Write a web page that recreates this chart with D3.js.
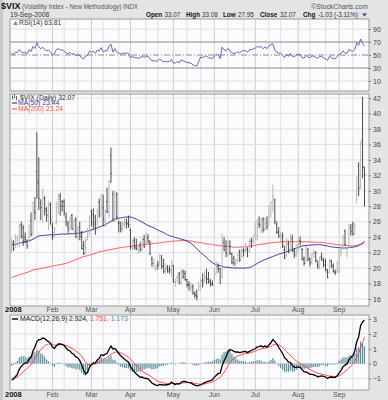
<!DOCTYPE html>
<html lang="en">
<head>
<meta charset="UTF-8">
<title>$VIX</title>
<style>
  body { margin: 0; background: #e4e4e4; }
  svg text { font-family: "Liberation Sans", Arial, sans-serif; }
</style>
</head>
<body>
<svg id="chart"></svg>
<script src="https://d3js.org/d3.v7.min.js"></script>
<script>
// ---- data ----
var holidays = ["2008-01-21", "2008-02-18", "2008-03-21", "2008-05-26", "2008-07-04", "2008-09-01"];
var monthNames = ["Feb", "Mar", "Apr", "May", "Jun", "Jul", "Aug", "Sep"];

var open = [22.58,23.4,22.9,23.6,23.2,25.6,25.2,24.0,23.4,23.6,26.2,24.6,27.4,32.5,31.2,28.4,26.6,29.0,27.4,26.6,28.2,
  25.4,24.6,25.8,27.8,29.3,28.6,28.6,26.6,25.7,25.0,26.8,24.4,26.3,23.8,25.3,24.4,22.9,22.8,24.0,24.5,
  27.3,26.9,25.7,25.2,28.5,27.2,27.8,25.9,28.6,26.8,34.6,29.6,26.0,29.5,25.9,25.4,25.6,25.7,25.9,25.8,
  24.9,22.8,23.6,22.6,22.0,22.8,22.5,23.7,23.3,23.9,23.3,21.2,20.6,19.9,20.5,20.6,21.2,20.3,19.8,20.0,19.8,19.6,
  20.3,18.1,18.8,19.3,18.0,19.5,19.3,18.5,17.9,17.3,17.6,16.7,16.5,17.4,17.7,18.4,18.5,18.9,18.6,18.3,18.0,
  18.6,19.3,20.2,19.9,18.8,23.3,22.8,21.6,22.9,21.8,21.3,20.7,21.1,22.1,21.5,22.3,22.2,22.4,22.2,23.5,23.6,
  24.4,24.2,25.7,25.5,26.3,25.0,25.8,26.5,26.9,29.2,28.8,25.6,24.6,23.9,24.2,22.4,21.6,23.1,22.5,23.8,22.2,22.0,
  22.6,23.5,22.4,21.2,20.8,22.4,21.1,20.8,21.9,22.0,20.5,20.2,21.5,21.0,20.8,19.5,19.4,20.9,20.3,19.5,19.7,
  19.5,22.2,22.9,24.8,21.6,22.7,25.2,25.5,24.9,28.9,33.2,30.3,36.6,33.07];
var high = [23.8,23.6,24.4,24.3,25.7,26.0,25.6,24.6,23.7,25.6,27.2,28.6,29.2,37.57,34.3,28.9,30.3,29.3,27.9,28.6,28.5,
  25.9,25.3,28.6,29.6,29.7,28.8,28.9,27.2,26.1,26.7,27.0,26.3,26.6,25.4,26.0,24.8,23.5,23.9,25.2,26.8,
  27.6,27.7,26.9,27.7,29.0,29.6,29.5,27.6,30.4,31.4,35.6,30.0,29.9,29.8,26.2,26.0,26.1,26.8,26.4,26.8,
  25.1,23.7,24.0,23.8,22.8,23.4,24.0,24.3,24.6,24.4,23.6,21.5,21.2,20.4,20.9,21.8,21.7,21.2,20.6,20.4,20.3,21.0,
  20.4,18.6,19.2,19.5,19.8,19.8,19.7,18.6,18.3,18.1,17.9,17.0,17.2,18.2,18.7,19.3,19.6,19.9,19.5,18.6,18.4,
  20.0,20.9,20.6,20.0,24.5,24.0,23.6,23.7,23.6,22.0,21.6,21.2,22.0,22.4,22.5,22.6,23.3,22.7,23.8,23.9,24.3,
  26.0,26.4,26.7,26.5,26.6,26.5,26.7,28.2,28.6,30.8,29.0,26.0,25.3,24.7,24.6,22.9,23.8,23.5,24.4,24.3,22.6,23.1,
  23.9,24.1,22.6,21.5,22.8,22.6,21.4,21.9,22.4,22.2,21.0,21.5,22.0,21.3,21.2,19.9,21.2,21.1,20.6,19.8,20.9,
  22.6,22.9,24.3,25.0,23.0,25.7,25.7,26.0,25.8,31.8,33.7,36.4,42.16,33.08];
var low = [22.0,22.2,22.6,22.8,22.7,23.8,22.9,23.2,22.5,23.3,24.1,24.2,26.2,29.0,27.5,26.2,25.9,26.8,26.0,24.9,25.6,
  23.6,24.0,25.6,27.0,26.8,27.3,26.8,25.4,24.5,24.8,25.0,24.3,23.9,23.6,23.6,22.4,21.7,21.8,23.6,24.2,
  25.4,25.1,24.3,24.9,26.5,26.6,25.4,25.3,27.1,26.5,31.0,26.0,25.9,26.3,24.6,24.6,24.7,25.2,25.1,25.2,
  22.4,22.3,22.4,22.3,21.8,22.1,22.2,22.6,23.1,23.2,21.7,20.2,20.0,19.6,19.8,20.3,19.9,19.3,19.2,19.4,19.3,18.9,
  18.1,17.6,18.2,17.9,17.9,18.6,18.4,17.5,17.1,16.9,16.6,16.1,15.82,17.0,17.1,17.5,18.2,17.9,18.0,17.6,17.7,
  18.5,19.2,19.4,18.0,18.7,22.2,21.4,21.5,21.7,20.5,20.3,20.1,20.6,20.8,21.3,21.5,22.0,21.4,22.0,22.6,23.1,
  23.6,23.6,25.2,24.5,24.6,24.8,25.0,25.5,26.5,27.3,25.7,24.4,23.9,23.3,22.6,21.2,21.4,21.9,22.2,22.1,21.3,21.4,
  22.0,22.9,21.0,20.3,20.6,20.9,20.2,20.5,21.3,20.7,19.9,19.8,20.9,20.1,19.6,18.7,19.3,20.0,19.4,19.1,19.4,
  19.4,21.5,22.6,22.9,21.4,22.5,24.2,24.2,24.3,28.4,29.3,30.2,31.6,27.95];
var close = [23.17,22.49,23.94,23.79,25.43,24.12,23.45,23.68,22.90,25.43,24.38,28.46,27.18,31.01,29.02,27.81,29.08,27.69,26.82,27.26,26.20,
  24.02,24.98,28.24,28.88,28.04,28.01,27.25,25.96,25.30,26.34,25.02,25.59,24.05,24.90,24.06,22.54,21.90,23.60,24.12,26.54,
  25.94,26.58,25.25,27.49,26.98,29.38,26.36,27.27,27.29,31.16,32.24,26.37,29.84,26.62,25.79,25.08,25.73,25.71,25.71,25.61,
  22.68,23.43,22.82,22.45,22.42,22.37,23.82,22.78,23.46,23.53,21.85,20.61,20.62,20.13,20.35,21.60,20.18,19.59,19.80,19.54,19.75,20.79,
  18.18,18.18,18.97,18.07,19.54,18.90,18.46,17.84,17.73,17.52,16.69,16.47,16.30,17.57,18.39,18.21,18.64,18.55,18.17,17.91,17.83,
  19.09,20.01,19.87,18.03,23.56,22.31,21.96,23.33,21.94,20.72,20.63,20.91,21.72,21.05,22.24,22.26,22.52,21.57,23.44,23.44,23.95,
  24.48,26.20,25.62,26.18,24.97,26.35,25.38,27.49,28.48,29.31,26.05,24.68,24.19,23.99,22.86,21.23,23.60,22.06,24.28,22.20,21.67,22.94,
  23.49,23.36,21.09,20.59,22.65,21.17,20.70,21.73,21.92,20.98,20.26,21.24,21.26,20.40,19.82,18.81,20.98,20.27,19.56,19.43,20.65,
  21.99,22.52,24.03,23.06,22.64,25.47,24.79,24.39,25.66,31.70,30.30,36.22,33.10,32.07];

var ma50 = [23.0,23.05,23.1,23.15,23.2,23.3,23.35,23.4,23.45,23.55,23.6,23.75,23.85,24.05,
  24.15,24.2,24.2,24.25,24.25,24.3,24.3,24.3,24.3,24.35,24.35,24.4,24.4,24.4,24.4,24.4,24.45,24.45,24.45,24.5,24.5,
  24.55,24.6,24.65,24.7,24.8,24.85,24.95,25.0,25.1,25.2,
  25.3,25.4,25.5,25.6,25.75,25.9,26.05,26.2,
  26.3,26.4,26.45,26.5,26.55,26.6,26.6,26.65,
  26.6,26.55,26.45,26.35,26.2,26.05,25.95,25.8,25.65,
  25.5,25.4,25.3,25.2,25.05,24.95,24.8,24.7,24.6,24.45,24.3,
  24.2,24.1,24.05,23.95,23.9,23.8,23.75,23.7,23.6,
  23.5,23.35,23.2,23.0,22.75,22.5,22.25,
  22.0,21.8,21.6,21.35,21.1,20.9,20.7,
  20.55,20.45,20.35,20.3,20.2,
  20.15,20.1,20.1,20.05,20.05,20.0,20.0,20.0,20.0,
  20.0,20.0,20.0,20.05,20.05,
  20.15,20.3,20.45,20.6,20.75,20.85,21.0,
  21.1,21.2,21.3,21.4,21.5,21.6,21.7,
  21.8,21.85,21.95,22.05,22.1,22.2,22.3,
  22.4,22.5,22.6,22.65,22.75,22.85,
  22.9,22.9,22.95,22.95,23.0,23.0,23.0,23.05,23.0,
  23.0,22.95,22.9,22.85,22.8,
  22.75,22.7,22.7,22.65,22.65,22.6,22.6,
  22.6,22.6,22.65,22.7,22.7,22.75,22.8,
  22.9,23.05,23.25,23.44];
var ma200 = [18.8,18.88,18.96,19.04,19.12,19.2,19.28,19.36,19.44,19.52,19.62,19.75,
  19.8,19.85,19.9,19.95,20.0,20.05,20.1,20.15,20.2,20.25,20.3,20.35,20.4,20.45,20.5,20.55,20.6,
  20.7,20.8,20.9,21.0,21.1,21.2,21.3,21.4,21.5,21.55,21.6,21.7,21.75,21.85,21.9,22.0,22.1,
  22.15,22.2,22.25,22.3,22.35,22.4,22.45,22.5,22.55,22.6,22.65,22.7,22.7,22.75,22.8,22.8,22.85,
  22.9,22.9,22.95,23.0,23.0,23.05,23.05,23.1,23.1,23.15,23.2,23.2,23.25,23.25,23.3,23.35,23.35,23.4,
  23.45,23.45,23.5,23.5,23.5,23.55,23.55,23.55,23.55,23.55,23.5,23.5,
  23.45,23.4,23.35,23.3,23.3,23.25,23.2,23.15,23.1,23.1,23.05,23.0,22.95,22.9,22.9,22.85,
  22.85,22.8,22.8,22.75,22.75,22.7,22.7,22.7,22.7,
  22.7,22.75,22.75,22.8,22.85,22.9,22.9,22.95,23.0,
  23.05,23.1,23.1,23.15,23.2,23.25,23.25,23.3,
  23.3,23.35,23.35,23.35,23.4,23.4,23.4,23.4,23.4,
  23.4,23.4,23.4,23.45,23.45,23.4,23.4,23.4,
  23.4,23.4,23.35,23.35,23.35,23.3,23.3,23.3,23.3,
  23.25,23.2,23.2,23.15,23.1,23.05,23.05,23.0,
  23.0,22.95,22.95,22.9,22.9,22.85,22.85,
  22.9,22.95,23.0,23.05,23.15,23.24];

var rsi = [53.5,50.5,54.5,54.0,58.5,55.0,53.3,53.8,51.8,58.0,55.2,63.0,60.0,69.0,62.5,59.5,62.0,58.6,56.5,57.3,54.8,
  49.6,51.8,58.5,59.6,57.8,57.7,56.0,53.2,51.8,54.0,51.0,52.3,48.8,50.9,49.0,45.6,43.9,48.5,49.8,55.8,
  54.4,55.8,52.6,57.6,56.3,61.3,54.6,56.5,56.5,63.6,66.8,54.5,59.8,54.3,52.6,51.4,52.8,52.8,52.8,52.5,
  45.8,47.6,46.3,45.5,45.4,45.3,48.8,46.3,48.0,48.2,44.1,41.3,41.4,40.3,40.9,44.1,41.0,39.8,40.3,39.4,40.0,43.2,
  37.6,37.6,40.2,37.8,42.6,41.0,39.8,38.2,38.0,37.4,35.0,33.8,33.0,40.2,47.0,45.5,48.5,48.0,46.0,45.0,44.5,
  48.2,51.0,50.0,44.5,62.0,58.0,56.5,60.0,56.0,53.0,52.5,53.0,55.0,53.0,56.0,56.2,57.0,54.0,58.5,58.3,59.5,
  60.5,63.5,61.8,63.0,59.6,62.5,59.8,64.0,66.0,67.5,58.0,54.2,53.0,52.5,49.6,45.8,51.2,47.9,52.5,48.2,47.2,49.8,
  51.0,50.7,46.0,45.0,49.7,46.7,45.7,48.2,48.6,46.6,45.0,47.6,47.7,45.7,44.3,41.7,47.8,46.1,44.5,44.2,47.8,
  51.2,52.6,56.2,53.4,52.3,58.6,56.6,55.6,58.4,69.0,64.8,74.6,68.0,63.81];

var macd = [-1.10,-1.05,-0.88,-0.72,-0.38,-0.18,-0.05,0.05,0.05,0.30,0.42,0.85,1.10,1.48,1.62,1.62,1.72,1.68,1.55,1.48,1.36,
  1.12,1.02,1.20,1.32,1.32,1.30,1.22,1.05,0.90,0.85,0.70,0.62,0.45,0.40,0.20,-0.10,-0.45,-0.70,-0.60,-0.25,
  -0.05,0.05,0.05,0.25,0.35,0.60,0.55,0.62,0.70,0.95,1.18,0.98,1.02,0.88,0.68,0.52,0.42,0.30,0.20,0.10,
  -0.20,-0.38,-0.55,-0.70,-0.82,-0.92,-0.90,-0.98,-1.00,-1.02,-1.15,-1.30,-1.38,-1.45,-1.48,-1.40,-1.42,-1.45,-1.42,-1.42,-1.38,-1.25,
  -1.35,-1.40,-1.35,-1.38,-1.25,-1.20,-1.20,-1.25,-1.28,-1.30,-1.38,-1.45,-1.50,-1.48,-1.42,-1.35,-1.28,-1.22,-1.18,-1.15,-1.08,
  -0.92,-0.78,-0.66,-0.64,-0.15,0.20,0.45,0.80,0.95,0.90,0.82,0.78,0.78,0.74,0.78,0.80,0.82,0.74,0.82,0.88,0.95,
  1.00,1.12,1.15,1.20,1.12,1.18,1.12,1.25,1.40,1.62,1.50,1.32,1.10,0.90,0.68,0.40,0.28,0.10,0.08,-0.12,-0.25,-0.25,
  -0.22,-0.25,-0.40,-0.55,-0.55,-0.62,-0.72,-0.72,-0.75,-0.80,-0.88,-0.85,-0.82,-0.85,-0.90,-1.00,-0.92,-0.90,-0.92,-0.92,-0.82,
  -0.62,-0.45,-0.20,-0.10,-0.02,0.25,0.42,0.52,0.85,1.45,1.80,2.55,2.80,2.924];
var signal = [-0.95,-0.97,-0.95,-0.90,-0.80,-0.68,-0.55,-0.43,-0.33,-0.20,-0.08,0.11,0.31,0.54,0.76,0.93,1.09,1.21,1.28,1.32,1.33,
  1.29,1.24,1.23,1.25,1.26,1.27,1.26,1.22,1.16,1.10,1.02,0.94,0.84,0.75,0.64,0.49,0.30,0.10,-0.04,-0.08,
  -0.07,-0.05,-0.03,0.03,0.09,0.19,0.26,0.33,0.40,0.51,0.64,0.71,0.77,0.79,0.77,0.72,0.66,0.59,0.51,0.43,
  0.30,0.16,0.02,-0.12,-0.26,-0.39,-0.49,-0.59,-0.67,-0.74,-0.82,-0.92,-1.01,-1.10,-1.18,-1.22,-1.26,-1.30,-1.32,-1.34,-1.35,-1.33,
  -1.33,-1.34,-1.34,-1.35,-1.33,-1.30,-1.28,-1.27,-1.27,-1.28,-1.30,-1.33,-1.36,-1.38,-1.39,-1.38,-1.36,-1.33,-1.30,-1.27,-1.23,
  -1.17,-1.09,-1.00,-0.93,-0.77,-0.58,-0.37,-0.14,0.08,0.24,0.36,0.44,0.51,0.56,0.60,0.64,0.68,0.69,0.72,0.75,0.79,
  0.83,0.89,0.94,0.99,1.02,1.05,1.06,1.10,1.16,1.25,1.30,1.30,1.26,1.19,1.09,0.95,0.82,0.68,0.56,0.42,0.29,0.18,
  0.10,0.03,-0.06,-0.16,-0.24,-0.32,-0.40,-0.46,-0.52,-0.58,-0.64,-0.68,-0.71,-0.74,-0.77,-0.82,-0.84,-0.85,-0.86,-0.87,-0.86,
  -0.81,-0.74,-0.63,-0.52,-0.42,-0.29,-0.15,-0.02,0.15,0.41,0.69,1.06,1.41,1.751];
var hist = [-0.15,-0.08,0.07,0.18,0.42,0.50,0.50,0.48,0.38,0.50,0.50,0.74,0.79,0.94,0.86,0.69,0.63,0.47,0.27,0.16,0.03,
  -0.17,-0.22,-0.03,0.07,0.06,0.03,-0.04,-0.17,-0.26,-0.25,-0.32,-0.32,-0.39,-0.35,-0.44,-0.59,-0.75,-0.80,-0.56,-0.17,
  0.02,0.10,0.08,0.22,0.26,0.41,0.29,0.29,0.30,0.44,0.54,0.27,0.25,0.09,-0.09,-0.20,-0.24,-0.29,-0.31,-0.33,
  -0.50,-0.54,-0.57,-0.58,-0.56,-0.53,-0.41,-0.39,-0.33,-0.28,-0.33,-0.38,-0.37,-0.35,-0.30,-0.18,-0.16,-0.15,-0.10,-0.08,-0.03,0.08,
  -0.02,-0.06,-0.01,-0.03,0.08,0.10,0.08,0.02,-0.01,-0.02,-0.08,-0.12,-0.14,-0.10,-0.03,0.03,0.08,0.11,0.12,0.12,0.15,
  0.25,0.31,0.34,0.29,0.62,0.78,0.82,0.94,0.87,0.66,0.46,0.34,0.27,0.18,0.18,0.16,0.14,0.05,0.10,0.13,0.16,
  0.17,0.23,0.21,0.21,0.10,0.13,0.06,0.15,0.24,0.37,0.20,0.02,-0.16,-0.29,-0.41,-0.55,-0.54,-0.58,-0.48,-0.54,-0.54,-0.43,
  -0.32,-0.28,-0.34,-0.39,-0.31,-0.30,-0.32,-0.26,-0.23,-0.22,-0.24,-0.17,-0.11,-0.11,-0.13,-0.18,-0.08,-0.05,-0.06,-0.05,0.04,
  0.19,0.29,0.43,0.42,0.40,0.54,0.57,0.54,0.70,1.04,1.11,1.49,1.39,1.173];

// ---- trading calendar ----
var fmt = d3.timeFormat("%Y-%m-%d");
var dates = d3.timeDay.range(new Date(2008, 0, 2), new Date(2008, 8, 20))
  .filter(d => d.getDay() > 0 && d.getDay() < 6 && holidays.indexOf(fmt(d)) < 0)
  .map(fmt);

var bars = dates.map((d, i) => ({date: d, o: open[i], h: high[i], l: low[i], c: close[i]}));

// ---- layout ----
var width = 388, height = 400;
var left = 10, right = 369;
var rsiP = {top: 19, bottom: 91},
    priceP = {top: 94, bottom: 306},
    macdP = {top: 315, bottom: 390};

var svg = d3.select("#chart").attr("width", width).attr("height", height);
svg.append("rect").attr("width", width).attr("height", height).attr("fill", "#e4e4e4");
svg.append("rect").attr("width", 3).attr("height", height).attr("fill", "#cacaca");

var x = d3.scalePoint().domain(dates).range([11.5, 364.5]);
var yRsi = d3.scaleLinear().domain([10, 90]).range([81, 29]);
var yPrice = d3.scaleLinear().domain([16, 42]).range([299, 98]);
var yMacd = d3.scaleLinear().domain([-1, 3]).range([378.5, 319]);

// month starts and in-between grid dates
var monthStart = dates.filter((d, i) => i > 0 && d.slice(5, 7) !== dates[i - 1].slice(5, 7));
var gridDates = dates.filter((d, i) => {
  if (i === 0) return false;
  var day = +d.slice(8), prev = +dates[i - 1].slice(8);
  return (day >= 11 && prev < 11) || (day >= 21 && prev < 21);
});

function panel(p, id) {
  svg.append("clipPath").attr("id", id).append("rect")
    .attr("x", left).attr("y", p.top).attr("width", right - left).attr("height", p.bottom - p.top);
  svg.append("rect").attr("x", left).attr("y", p.top)
    .attr("width", right - left).attr("height", p.bottom - p.top)
    .attr("fill", "#fbfbfd");
  var g = svg.append("g");
  g.selectAll(".vg").data(gridDates).join("line")
    .attr("x1", d => x(d)).attr("x2", d => x(d))
    .attr("y1", p.top).attr("y2", p.bottom)
    .attr("stroke", "#e0e0e0").attr("stroke-width", 1);
  g.selectAll(".vm").data(monthStart).join("line")
    .attr("x1", d => x(d)).attr("x2", d => x(d))
    .attr("y1", p.top).attr("y2", p.bottom)
    .attr("stroke", "#cdcdcd").attr("stroke-width", 1);
  return g;
}

function hgrid(g, scale, values, color) {
  g.selectAll(null).data(values).join("line")
    .attr("x1", left).attr("x2", right)
    .attr("y1", d => scale(d)).attr("y2", d => scale(d))
    .attr("stroke", color || "#e0e0e0");
}

function rightAxis(scale, values) {
  var g = svg.append("g").attr("transform", "translate(" + right + ",0)")
    .call(d3.axisRight(scale).tickValues(values).tickSize(2).tickPadding(2).tickFormat(d3.format("d")));
  g.attr("font-size", 7).attr("font-family", "Liberation Sans, Arial, sans-serif");
  g.select(".domain").remove();
  g.selectAll("line").attr("stroke", "#777");
  g.selectAll("text").attr("fill", "#444");
}

function border(p) {
  svg.append("rect").attr("x", left).attr("y", p.top)
    .attr("width", right - left).attr("height", p.bottom - p.top)
    .attr("fill", "none").attr("stroke", "#9a9a9a");
}

// ---- RSI panel ----
var gR = panel(rsiP, "clipR");
hgrid(gR, yRsi, [90, 10]);
hgrid(gR, yRsi, [70, 30], "#8a8a8a");
gR.append("line").attr("x1", left).attr("x2", right)
  .attr("y1", yRsi(50)).attr("y2", yRsi(50))
  .attr("stroke", "#8a8a8a").attr("stroke-dasharray", "6,2,1,2");
gR.append("path").datum(rsi)
  .attr("clip-path", "url(#clipR)")
  .attr("fill", "none").attr("stroke", "#5757a8").attr("stroke-width", 0.9)
  .attr("d", d3.line().x((d, i) => x(dates[i])).y(d => yRsi(d)));
border(rsiP);
rightAxis(yRsi, [90, 70, 50, 30, 10]);

// ---- price panel ----
var gP = panel(priceP, "clipP");
hgrid(gP, yPrice, d3.range(16, 43, 2));
var pg = gP.append("g").attr("clip-path", "url(#clipP)");
pg.append("path").datum(ma200)
  .attr("fill", "none").attr("stroke", "#ff5a5a").attr("stroke-width", 1)
  .attr("d", d3.line().x((d, i) => x(dates[i])).y(d => yPrice(d)));
pg.append("path").datum(ma50)
  .attr("fill", "none").attr("stroke", "#3b3b9c").attr("stroke-width", 1)
  .attr("d", d3.line().x((d, i) => x(dates[i])).y(d => yPrice(d)));
var bar = pg.selectAll(".bar").data(bars).join("g")
  .attr("stroke", d => d.c >= d.o ? "#b2b2b2" : "#3a3a3a")
  .attr("stroke-width", 0.9);
bar.append("line").attr("x1", d => x(d.date)).attr("x2", d => x(d.date))
  .attr("y1", d => yPrice(d.h)).attr("y2", d => yPrice(d.l));
bar.append("line").attr("x1", d => x(d.date) - 1).attr("x2", d => x(d.date))
  .attr("y1", d => yPrice(d.o)).attr("y2", d => yPrice(d.o));
bar.append("line").attr("x1", d => x(d.date)).attr("x2", d => x(d.date) + 1)
  .attr("y1", d => yPrice(d.c)).attr("y2", d => yPrice(d.c));
border(priceP);
rightAxis(yPrice, d3.range(16, 43, 2));

// ---- MACD panel ----
var gM = panel(macdP, "clipM");
hgrid(gM, yMacd, [-1, 0, 1, 2, 3]);
var mg = gM.append("g").attr("clip-path", "url(#clipM)");
mg.selectAll(".h").data(hist).join("rect")
  .attr("x", (d, i) => x(dates[i]) - 0.6)
  .attr("width", 1.2)
  .attr("y", d => Math.min(yMacd(d), yMacd(0)))
  .attr("height", d => Math.abs(yMacd(d) - yMacd(0)))
  .attr("fill", "#5f8e9e");
mg.append("path").datum(signal)
  .attr("fill", "none").attr("stroke", "#ff4a4a").attr("stroke-width", 1)
  .attr("d", d3.line().x((d, i) => x(dates[i])).y(d => yMacd(d)));
mg.append("path").datum(macd)
  .attr("fill", "none").attr("stroke", "#000").attr("stroke-width", 1.3)
  .attr("d", d3.line().x((d, i) => x(dates[i])).y(d => yMacd(d)));
border(macdP);
rightAxis(yMacd, [3, 2, 1, 0, -1]);

// ---- date labels ----
[312, 397].forEach(function (yy) {
  svg.append("text").attr("x", 5).attr("y", yy).text("2008")
    .attr("font-size", 7.5).attr("font-weight", "bold").attr("fill", "#111");
  svg.selectAll(null).data(monthStart).join("text")
    .attr("x", d => x(d)).attr("y", yy).attr("text-anchor", "middle")
    .attr("font-size", 7).attr("fill", "#555")
    .text((d, i) => monthNames[i]);
});

// ---- header ----
svg.append("text").attr("x", 1).attr("y", 9).text("$VIX")
  .attr("font-size", 9).attr("font-weight", "bold").attr("fill", "#111");
svg.append("text").attr("x", 22).attr("y", 9)
  .text("(Volatility Index - New Methodology) INDX")
  .attr("font-size", 6.8).attr("fill", "#555")
  .attr("textLength", 116).attr("lengthAdjust", "spacingAndGlyphs");
svg.append("text").attr("x", 368).attr("y", 9).attr("text-anchor", "end")
  .text("\u00A9StockCharts.com").attr("font-size", 6.8).attr("fill", "#555");
svg.append("text").attr("x", 10).attr("y", 17).text("19-Sep-2008")
  .attr("font-size", 6.8).attr("fill", "#333");

var quote = [
  {t: "Open", x: 146, b: true}, {t: "33.07", x: 164.5}, {t: "High", x: 186, b: true}, {t: "33.08", x: 202},
  {t: "Low", x: 223, b: true}, {t: "27.95", x: 238}, {t: "Close", x: 260, b: true}, {t: "32.07", x: 280},
  {t: "Chg", x: 303, b: true}, {t: "-1.03 (-3.11%)", x: 318}
];
svg.selectAll(null).data(quote).join("text")
  .attr("x", d => d.x).attr("y", 17).text(d => d.t)
  .attr("font-size", 6.3)
  .attr("font-weight", d => d.b ? "bold" : "normal")
  .attr("fill", d => d.b ? "#111" : "#333");
svg.append("path").attr("d", "M362,13.5L367,13.5L364.5,16.5Z").attr("fill", "#2e4fa0");

// ---- panel legends ----
svg.append("path").attr("d", "M13,25L15.5,21L18,25Z").attr("fill", "#6d8fc8");
svg.append("text").attr("x", 19).attr("y", 25).text("RSI(14) 63.81")
  .attr("font-size", 6.8).attr("fill", "#333");

var icon = svg.append("g").attr("stroke", "#444").attr("stroke-width", 0.8);
[[12.5, 95.5, 99.5], [14.5, 94.5, 98], [16.5, 96, 100]].forEach(function (s) {
  icon.append("line").attr("x1", s[0]).attr("x2", s[0]).attr("y1", s[1]).attr("y2", s[2]);
});
svg.append("text").attr("x", 20).attr("y", 99.5).text("$VIX (Daily) 32.07")
  .attr("font-size", 6.8).attr("fill", "#333");
svg.append("line").attr("x1", 12).attr("x2", 17).attr("y1", 103).attr("y2", 103)
  .attr("stroke", "#3b3b9c").attr("stroke-width", 1.2);
svg.append("text").attr("x", 18).attr("y", 105).text("MA(50) 23.44")
  .attr("font-size", 6.8).attr("fill", "#3b3b9c");
svg.append("line").attr("x1", 12).attr("x2", 17).attr("y1", 109).attr("y2", 109)
  .attr("stroke", "#ff5a5a").attr("stroke-width", 1.2);
svg.append("text").attr("x", 18).attr("y", 111).text("MA(200) 23.24")
  .attr("font-size", 6.8).attr("fill", "#ff4a4a");

svg.append("line").attr("x1", 12).attr("x2", 18).attr("y1", 319).attr("y2", 319)
  .attr("stroke", "#000").attr("stroke-width", 1.4);
var ml = svg.append("text").attr("x", 20).attr("y", 321).attr("font-size", 6.8);
ml.append("tspan").attr("fill", "#222").text("MACD(12,26,9) 2.924, ");
ml.append("tspan").attr("fill", "#ff4a4a").text("1.751, ");
ml.append("tspan").attr("fill", "#5f8e9e").text("1.173");
</script>
</body>
</html>
